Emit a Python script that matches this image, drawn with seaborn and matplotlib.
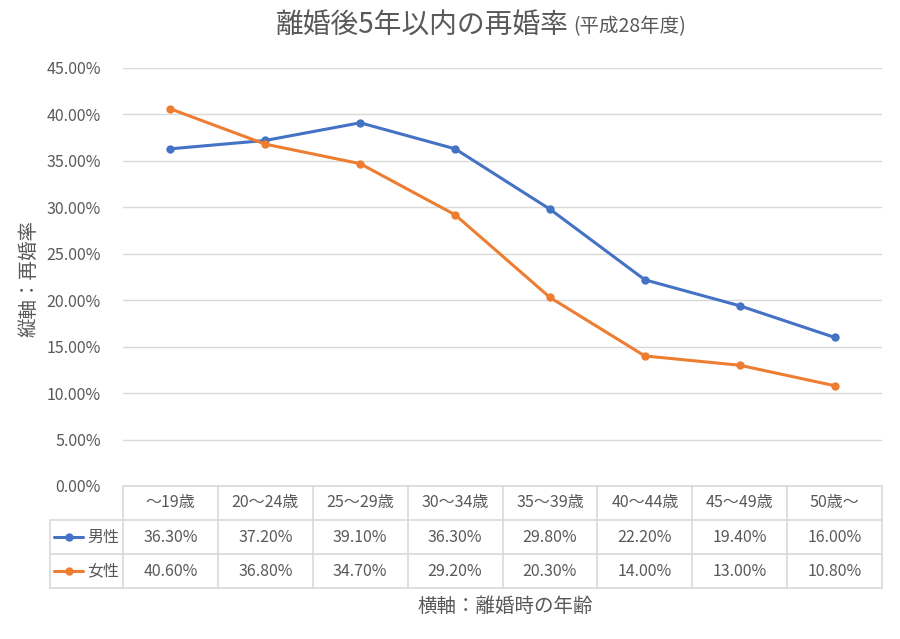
import numpy as np
import pandas as pd
import seaborn as sns
import matplotlib.pyplot as plt
from matplotlib.lines import Line2D
from matplotlib.ticker import FuncFormatter, MultipleLocator

# ------------------- Data -------------------
ages = ['～19歳', '20～24歳', '25～29歳', '30～34歳', '35～39歳', '40～44歳', '45～49歳', '50歳～']
men = [36.3, 37.2, 39.1, 36.3, 29.8, 22.2, 19.4, 16.0]
women = [40.6, 36.8, 34.7, 29.2, 20.3, 14.0, 13.0, 10.8]
series = ['男性', '女性']
colors = ['#4472C4', '#ED7D31']

df = pd.DataFrame({
    'pos': list(range(len(ages))) * 2,
    'rate': np.array(men + women) / 100,
    'sex': [series[0]] * len(ages) + [series[1]] * len(ages),
})

# ------------------- Style -------------------
sns.set_style('white')
plt.rcParams['font.family'] = ['Noto Sans CJK JP', 'DejaVu Sans']
txt = '#595959'
grid = '#D9D9D9'

fig = plt.figure(figsize=(9, 6.39), dpi=100)
ax = fig.add_axes([123 / 900, 1 - 486 / 639, 759 / 900, 418 / 639])

sns.lineplot(data=df, x='pos', y='rate', hue='sex', palette=colors, marker='o',
             markersize=6, markeredgewidth=0, linewidth=2.2, legend=False, ax=ax)

ax.set_xlim(-0.5, len(ages) - 0.5)
ax.set_ylim(0, 0.45)
ax.yaxis.set_major_locator(MultipleLocator(0.05))
ax.yaxis.set_major_formatter(FuncFormatter(lambda v, p: f'{v * 100:.2f}%'))
ax.grid(axis='y', color=grid, linewidth=1)
ax.set_xticks([])
ax.tick_params(axis='y', length=0, labelsize=11.5, labelcolor=txt, pad=16)
for s in ax.spines.values():
    s.set_visible(False)
ax.set_xlabel('')
ax.set_ylabel('')

# ------------------- Data table -------------------
tr = ax.get_xaxis_transform()
rh = 34 / 418
left = -0.5 - 73 / 94.9
n = len(ages)
kw = dict(transform=tr, clip_on=False, color=grid, linewidth=1.2)
ax.add_line(Line2D([-0.5, n - 0.5], [0, 0], **kw))
for r in (1, 2, 3):
    ax.add_line(Line2D([left, n - 0.5], [-rh * r, -rh * r], **kw))
ax.add_line(Line2D([left, left], [-rh, -3 * rh], **kw))
for k in range(n + 1):
    ax.add_line(Line2D([k - 0.5, k - 0.5], [0, -3 * rh], **kw))

for k, a in enumerate(ages):
    ax.text(k, -0.5 * rh, a, transform=tr, ha='center', va='center', fontsize=11.5, color=txt)
    ax.text(k, -1.5 * rh, f'{men[k]:.2f}%', transform=tr, ha='center', va='center', fontsize=11.5, color=txt)
    ax.text(k, -2.5 * rh, f'{women[k]:.2f}%', transform=tr, ha='center', va='center', fontsize=11.5, color=txt)

lx0 = -0.5 - 69 / 94.9
lx1 = -0.5 - 40 / 94.9
for i, (name, c) in enumerate(zip(series, colors)):
    yy = -(1.5 + i) * rh
    ax.add_line(Line2D([lx0, lx1], [yy, yy], transform=tr, clip_on=False, color=c, linewidth=2.2))
    ax.add_line(Line2D([(lx0 + lx1) / 2], [yy], transform=tr, clip_on=False, color=c,
                       marker='o', markersize=6, markeredgewidth=0))
    ax.text(-0.5 - 36 / 94.9, yy, name, transform=tr, ha='left', va='center', fontsize=11.5, color=txt)

# ------------------- Titles -------------------
fig.text(569 / 900, 1 - 26 / 639, '離婚後5年以内の再婚率', ha='right', va='center', fontsize=20, color=txt)
fig.text(573 / 900, 1 - 27 / 639, '(平成28年度)', ha='left', va='center', fontsize=14, color=txt)
fig.text(29 / 900, 1 - 278 / 639, '縦軸：再婚率', rotation=90, ha='center', va='center', fontsize=14, color=txt)
fig.text(505 / 900, 1 - 606 / 639, '横軸：離婚時の年齢', ha='center', va='center', fontsize=14, color=txt)

fig.savefig('out.png', dpi=100, facecolor='white')
